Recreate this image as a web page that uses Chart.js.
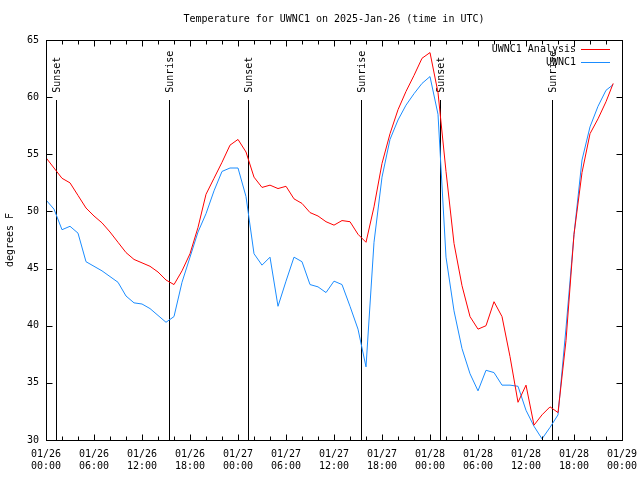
<!DOCTYPE html>
<html><head><meta charset="utf-8">
<script src="https://cdn.jsdelivr.net/npm/chart.js@4/dist/chart.umd.min.js"></script>
<style>html,body{margin:0;padding:0;background:#fff}</style>
</head><body>
<canvas id="c" width="640" height="480"></canvas>
<script>
// ---- data ----
const hours = [0,1,2,3,4,5,6,7,8,9,10,11,12,13,14,15,16,17,18,19,20,21,22,23,
  24,25,26,27,28,29,30,31,32,33,34,35,36,37,38,39,40,41,42,43,44,45,46,47,
  48,49,50,51,52,53,54,55,56,57,58,59,60,61,62,63,64,65,66,67,68,69,70,70.9];
const analysisTemps = [54.7,53.8,52.9,52.5,51.4,50.3,49.6,49.0,48.2,47.3,46.4,45.8,
  45.5,45.2,44.7,44.0,43.6,44.8,46.3,48.6,51.5,52.9,54.3,55.8,
  56.3,55.2,53.0,52.1,52.3,52.0,52.2,51.1,50.7,49.9,49.6,49.1,
  48.8,49.2,49.1,48.0,47.3,50.4,54.2,56.8,58.9,60.5,61.9,63.4,
  63.9,60.4,53.5,47.2,43.5,40.8,39.7,40.0,42.1,40.8,37.3,33.3,
  34.8,31.3,32.2,32.9,32.4,38.7,48.0,53.4,56.8,58.1,59.6,61.2];
const observedTemps = [51.0,50.2,48.4,48.7,48.1,45.6,45.2,44.8,44.3,43.8,42.6,42.0,
  41.9,41.5,40.9,40.3,40.8,43.8,46.0,48.2,49.8,51.8,53.5,53.8,
  53.8,51.3,46.3,45.3,46.0,41.7,43.9,46.0,45.6,43.6,43.4,42.9,
  43.9,43.6,41.7,39.7,36.4,47.3,53.0,56.3,58.0,59.3,60.3,61.2,
  61.8,58.5,46.0,41.3,38.0,35.8,34.3,36.1,35.9,34.8,34.8,34.7,
  32.6,31.2,30.1,31.1,32.2,39.8,48.0,54.5,57.4,59.2,60.6,61.1];
const xTickLabels = [["01/26","00:00"],["01/26","06:00"],["01/26","12:00"],["01/26","18:00"],
  ["01/27","00:00"],["01/27","06:00"],["01/27","12:00"],["01/27","18:00"],
  ["01/28","00:00"],["01/28","06:00"],["01/28","12:00"],["01/28","18:00"],["01/29","00:00"]];
const sunHours = [1.29,15.41,25.29,39.41,49.29,63.3];
const sunLabels = ["Sunset","Sunrise","Sunset","Sunrise","Sunset","Sunrise"];
const seriesNames = ["UWNC1 Analysis","UWNC1"];
const seriesColors = ["#ff0000","#1a8cff"];
const titleText = "Temperature for UWNC1 on 2025-Jan-26 (time in UTC)";
const yLabel = "degrees F";

const FAM = '"DejaVu Sans Mono", "Liberation Mono", monospace';
const FONT = '10px ' + FAM;

const decor = {
  id: 'decor',
  beforeDatasetsDraw(chart) {
    const {ctx, chartArea: a, scales: {x}} = chart;
    const h = a.bottom - a.top;
    ctx.save();
    ctx.strokeStyle = '#000'; ctx.lineWidth = 1;
    ctx.font = FONT; ctx.fillStyle = '#000';
    sunHours.forEach((t, i) => {
      const px = Math.round(x.getPixelForValue(t)) + 0.5;
      ctx.beginPath();
      ctx.moveTo(px, a.bottom);
      ctx.lineTo(px, Math.round(a.bottom - 0.85 * h));
      ctx.stroke();
      ctx.save();
      ctx.translate(px + 0.5, a.bottom - 0.868 * h);
      ctx.rotate(-Math.PI / 2);
      ctx.textAlign = 'left'; ctx.textBaseline = 'middle';
      ctx.fillText(sunLabels[i], 0, 0);
      ctx.restore();
    });
    ctx.restore();
  },
  afterDatasetsDraw(chart) {
    const {ctx, chartArea: a, scales: {x, y}} = chart;
    ctx.save();
    ctx.strokeStyle = '#000'; ctx.lineWidth = 1;
    const L = Math.round(a.left) + 0.5, R = Math.round(a.right) + 0.5;
    const T = Math.round(a.top) + 0.5, B = Math.round(a.bottom) + 0.5;
    ctx.beginPath();
    for (let v = x.min; v <= x.max; v += 2) {
      const px = Math.round(x.getPixelForValue(v)) + 0.5;
      const len = (v % 6 === 0) ? 6 : 4;
      ctx.moveTo(px, B); ctx.lineTo(px, B - len);
      ctx.moveTo(px, T); ctx.lineTo(px, T + len);
    }
    y.ticks.forEach(tk => {
      const py = Math.round(y.getPixelForValue(tk.value)) + 0.5;
      ctx.moveTo(L, py); ctx.lineTo(L + 6, py);
      ctx.moveTo(R, py); ctx.lineTo(R - 6, py);
    });
    ctx.stroke();
    ctx.strokeRect(L, T, R - L, B - T);
    ctx.font = FONT; ctx.fillStyle = '#000';
    ctx.textAlign = 'center'; ctx.textBaseline = 'middle';
    ctx.fillText(titleText, (a.left + a.right) / 2, 19);
    ctx.textAlign = 'right';
    seriesNames.forEach((n, i) => {
      const ly = 49.5 + i * 13;
      ctx.fillStyle = '#000';
      ctx.fillText(n, 576, ly);
      ctx.strokeStyle = seriesColors[i];
      ctx.beginPath(); ctx.moveTo(581, ly); ctx.lineTo(610, ly); ctx.stroke();
    });
    ctx.restore();
  }
};

const mk = (arr) => hours.map((h, i) => ({x: h, y: arr[i]}));

new Chart(document.getElementById('c'), {
  type: 'line',
  data: {
    datasets: [
      {label: seriesNames[0], data: mk(analysisTemps), borderColor: seriesColors[0], borderWidth: 1, pointRadius: 0, tension: 0, fill: false},
      {label: seriesNames[1], data: mk(observedTemps), borderColor: seriesColors[1], borderWidth: 1, pointRadius: 0, tension: 0, fill: false}
    ]
  },
  options: {
    responsive: false, animation: false, events: [],
    layout: {padding: {top: 40, right: 18, bottom: 0, left: 0}},
    plugins: {legend: {display: false}, title: {display: false}, tooltip: {enabled: false}},
    scales: {
      x: {
        type: 'linear', min: 0, max: 72,
        grid: {display: false, drawTicks: false, tickLength: 0}, border: {display: false},
        ticks: {stepSize: 6, autoSkip: false, maxRotation: 0, padding: 8, color: '#000',
          font: {family: FAM, size: 10},
          callback: (v) => xTickLabels[Math.round(v / 6)]},
        afterFit: (s) => { s.height = 40; s.paddingLeft = 0; s.paddingRight = 0; }
      },
      y: {
        min: 30, max: 65,
        grid: {display: false, drawTicks: false, tickLength: 0}, border: {display: false},
        ticks: {stepSize: 5, padding: 7, color: '#000', font: {family: FAM, size: 10}},
        title: {display: true, text: yLabel, color: '#000', font: {family: FAM, size: 10}, padding: {top: 4, bottom: 0}},
        afterFit: (s) => { s.width = 46; s.paddingTop = 0; s.paddingBottom = 0; }
      }
    }
  },
  plugins: [decor]
});
</script>
</body></html>
